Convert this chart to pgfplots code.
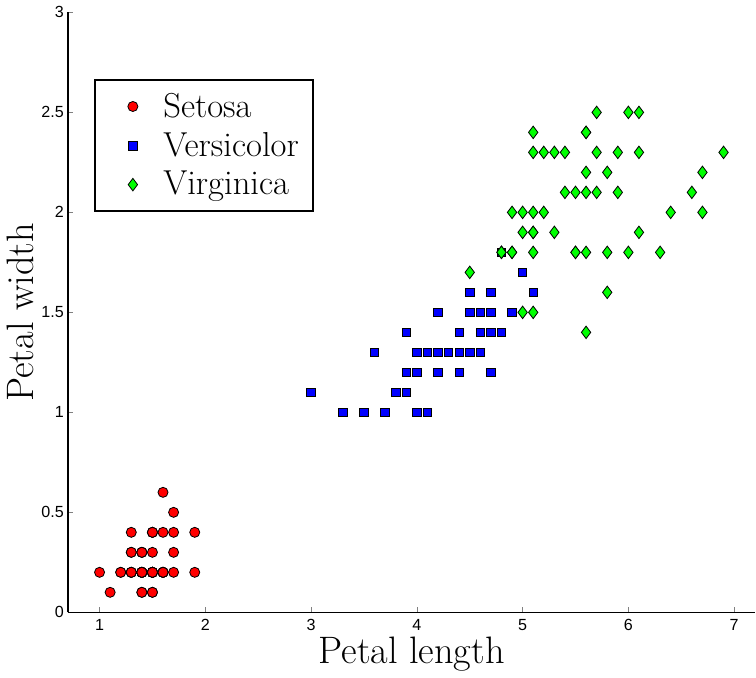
\documentclass[border=0pt]{standalone}
\usepackage{fontspec}
\usepackage{pgfplots}
\pgfplotsset{compat=1.18}
\newfontfamily\tickfont{Liberation Sans}
\pgfplotsset{
    markleg/.style={legend image code/.code={\path[draw=none, fill=none] (0cm,0cm) -- (0.6cm,0cm);
        \draw[##1] plot coordinates {(0.49cm,0cm)};}},
}

\begin{document}
\begin{tikzpicture}
\begin{axis}[
    width=341.5pt, height=298pt,
    scale only axis,
    xmin=0.7, xmax=7.2,
    ymin=0, ymax=3,
    axis lines=left,
    axis line style={-, line width=0.7pt},
    tick align=inside,
    major tick length=2.5pt,
    xtick={1,2,3,4,5,6,7},
    ytick={0,0.5,1,1.5,2,2.5,3},
    /pgf/number format/assume math mode=true,
    ticklabel style={font=\tickfont\fontsize{8}{9}\selectfont},
    yticklabel style={xshift=1.5pt},
    xlabel={Petal length},
    ylabel={Petal width},
    label style={font=\fontsize{19}{22}\selectfont},
    xlabel style={yshift=4pt},
    ylabel style={yshift=-3pt},
    legend cell align=left,
    legend style={at={(rel axis cs:0.038,0.889)}, anchor=north west,
        font=\fontsize{17.2}{20}\selectfont, draw=black, line width=0.8pt,
        inner xsep=5pt, inner ysep=4.5pt, row sep=2pt,
        /tikz/every odd column/.append style={column sep=10pt}},
    clip=false,
]
\addplot[only marks, markleg, mark=*, mark size=2.5pt, mark options={fill=red, draw=black, line width=0.4pt}] coordinates {
(1.4,0.2) (1.4,0.2) (1.3,0.2) (1.5,0.2) (1.4,0.2) (1.7,0.4) (1.4,0.3) (1.5,0.2) (1.4,0.2) (1.5,0.1)
(1.5,0.2) (1.6,0.2) (1.4,0.1) (1.1,0.1) (1.2,0.2) (1.5,0.4) (1.3,0.4) (1.4,0.3) (1.7,0.3) (1.5,0.3)
(1.7,0.2) (1.5,0.4) (1.0,0.2) (1.7,0.5) (1.9,0.2) (1.6,0.2) (1.6,0.4) (1.5,0.2) (1.4,0.2) (1.6,0.2)
(1.6,0.2) (1.5,0.4) (1.5,0.1) (1.4,0.2) (1.5,0.2) (1.2,0.2) (1.3,0.2) (1.4,0.1) (1.3,0.2) (1.5,0.2)
(1.3,0.3) (1.3,0.3) (1.3,0.2) (1.6,0.6) (1.9,0.4) (1.4,0.3) (1.6,0.2) (1.4,0.2) (1.5,0.2) (1.4,0.2)
};
\addlegendentry{Setosa}
\addplot[only marks, markleg, mark=square*, mark size=2.1pt, mark options={fill=blue, draw=black, line width=0.4pt}] coordinates {
(4.7,1.4) (4.5,1.5) (4.9,1.5) (4.0,1.3) (4.6,1.5) (4.5,1.3) (4.7,1.6) (3.3,1.0) (4.6,1.3) (3.9,1.4)
(3.5,1.0) (4.2,1.5) (4.0,1.0) (4.7,1.4) (3.6,1.3) (4.4,1.4) (4.5,1.5) (4.1,1.0) (4.5,1.5) (3.9,1.1)
(4.8,1.8) (4.0,1.3) (4.9,1.5) (4.7,1.2) (4.3,1.3) (4.4,1.4) (4.8,1.4) (5.0,1.7) (4.5,1.5) (3.5,1.0)
(3.8,1.1) (3.7,1.0) (3.9,1.2) (5.1,1.6) (4.5,1.5) (4.5,1.6) (4.7,1.5) (4.4,1.3) (4.1,1.3) (4.0,1.3)
(4.4,1.2) (4.6,1.4) (4.0,1.2) (3.3,1.0) (4.2,1.3) (4.2,1.2) (4.2,1.3) (4.3,1.3) (3.0,1.1) (4.1,1.3)
};
\addlegendentry{Versicolor}
\addplot[only marks, markleg, mark=diamond*, mark size=3.1pt, mark options={fill=green, draw=black, line width=0.4pt}] coordinates {
(6.0,2.5) (5.1,1.9) (5.9,2.1) (5.6,1.8) (5.8,2.2) (6.6,2.1) (4.5,1.7) (6.3,1.8) (5.8,1.8) (6.1,2.5)
(5.1,2.0) (5.3,1.9) (5.5,2.1) (5.0,2.0) (5.1,2.4) (5.3,2.3) (5.5,1.8) (6.7,2.2) (6.9,2.3) (5.0,1.5)
(5.7,2.3) (4.9,2.0) (6.7,2.0) (4.9,1.8) (5.7,2.1) (6.0,1.8) (4.8,1.8) (4.9,1.8) (5.6,2.1) (5.8,1.6)
(6.1,1.9) (6.4,2.0) (5.6,2.2) (5.1,1.5) (5.6,1.4) (6.1,2.3) (5.6,2.4) (5.5,1.8) (4.8,1.8) (5.4,2.1)
(5.6,2.4) (5.1,2.3) (5.1,1.9) (5.9,2.3) (5.7,2.5) (5.2,2.3) (5.0,1.9) (5.2,2.0) (5.4,2.3) (5.1,1.8)
};
\addlegendentry{Virginica}
\end{axis}
\end{tikzpicture}
\end{document}
